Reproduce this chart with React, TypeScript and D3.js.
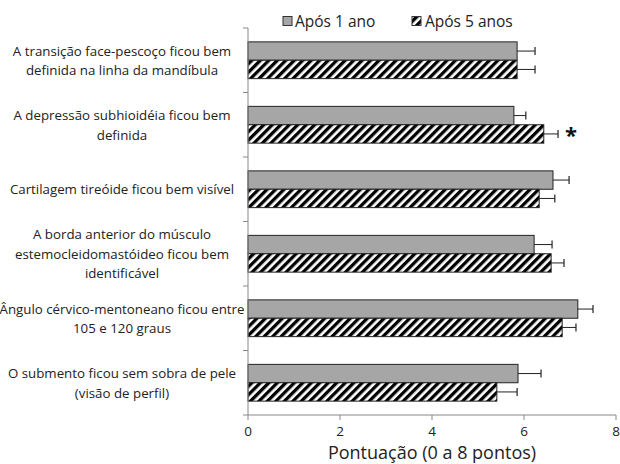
import React from "react";
import * as d3 from "d3";

const WIDTH = 620;
const HEIGHT = 464;
const MARGIN = { top: 28, right: 4, bottom: 49, left: 248 };

const categories = [
  ["A transição face-pescoço ficou bem", "definida na linha da mandíbula"],
  ["A depressão subhioidéia ficou bem", "definida"],
  ["Cartilagem tireóide ficou bem visível"],
  ["A borda anterior do músculo", "estemocleidomastóideo ficou bem", "identificável"],
  ["Ângulo cérvico-mentoneano ficou entre", "105 e 120 graus"],
  ["O submento ficou sem sobra de pele", "(visão de perfil)"],
];
const seriesNames = ["Após 1 ano", "Após 5 anos"];
const oneYear = [5.85, 5.78, 6.63, 6.22, 7.17, 5.87];
const oneYearErr = [0.39, 0.26, 0.35, 0.39, 0.33, 0.5];
const fiveYears = [5.85, 6.43, 6.33, 6.59, 6.83, 5.41];
const fiveYearsErr = [0.39, 0.31, 0.34, 0.28, 0.3, 0.44];
const significant = [false, true, false, false, false, false];
const xTicks = [0, 2, 4, 6, 8];

export default function App() {
  const boundsWidth = WIDTH - MARGIN.left - MARGIN.right;
  const boundsHeight = HEIGHT - MARGIN.top - MARGIN.bottom;

  const xScale = d3.scaleLinear().domain([0, 8]).range([0, 368]);
  const yScale = d3
    .scaleBand<number>()
    .domain(d3.range(categories.length))
    .range([0, boundsHeight])
    .paddingInner(0.43)
    .paddingOuter(0.215);
  const sub = d3
    .scaleBand<number>()
    .domain([0, 1])
    .range([0, yScale.bandwidth()]);

  const series = [
    { values: oneYear, errs: oneYearErr, fill: "#a6a6a6" },
    { values: fiveYears, errs: fiveYearsErr, fill: "url(#hatch)" },
  ];

  const step = yScale.step();

  return (
    <div>
      <style>{`body{margin:0}`}</style>
      <svg width={WIDTH} height={HEIGHT} style={{ display: "block" }} fontFamily="'Open Sans', sans-serif">
        <defs>
          <pattern id="hatch" patternUnits="userSpaceOnUse" width={6} height={6} patternTransform="rotate(45)">
            <rect width={6} height={6} fill="white" />
            <rect x={0} y={0} width={3.3} height={6} fill="black" />
          </pattern>
        </defs>

        {/* legend */}
        <g transform="translate(283,21)">
          <rect x={0} y={-4.5} width={9} height={9} fill="#a6a6a6" stroke="#333" strokeWidth={1} />
          <text x={12} y={0} dominantBaseline="central" fontSize={15.5} fill="#222">
            {seriesNames[0]}
          </text>
          <rect x={129} y={-4.5} width={9} height={9} fill="url(#hatch)" stroke="#333" strokeWidth={1} />
          <text x={142} y={0} dominantBaseline="central" fontSize={15.5} fill="#222">
            {seriesNames[1]}
          </text>
        </g>

        <g transform={`translate(${MARGIN.left},${MARGIN.top})`}>
          {/* category labels */}
          {categories.map((lines, i) => {
            const cy = i * step + step / 2;
            const lh = 19.5;
            return (
              <text key={i} textAnchor="middle" fontSize={13.3} fill="#222">
                {lines.map((l, j) => (
                  <tspan
                    key={j}
                    x={122 - MARGIN.left}
                    y={cy + (j - (lines.length - 1) / 2) * lh}
                    dominantBaseline="central"
                  >
                    {l}
                  </tspan>
                ))}
              </text>
            );
          })}

          {/* bars */}
          {series.map((s, si) =>
            s.values.map((v, i) => {
              const y = (yScale(i) ?? 0) + (sub(si) ?? 0);
              const h = sub.bandwidth();
              const x1 = xScale(v);
              const x2 = xScale(v + s.errs[i]);
              const cy = y + h / 2;
              return (
                <g key={`${si}-${i}`}>
                  <rect x={xScale(0)} y={y} width={x1 - xScale(0)} height={h} fill={s.fill} stroke="#222" strokeWidth={1} />
                  <line x1={x1} x2={x2} y1={cy} y2={cy} stroke="#222" strokeWidth={1} />
                  <line x1={x2} x2={x2} y1={cy - 4} y2={cy + 4} stroke="#222" strokeWidth={1.2} />
                </g>
              );
            })
          )}

          {/* significance stars */}
          {significant.map((sig, i) =>
            sig ? (
              <text
                key={i}
                x={xScale(fiveYears[i] + fiveYearsErr[i]) + 13}
                y={(yScale(i) ?? 0) + (sub(1) ?? 0) + sub.bandwidth() / 2 + 9}
                textAnchor="middle"
                fontSize={22}
                fontWeight="bold"
                fill="#111"
              >
                *
              </text>
            ) : null
          )}

          {/* y axis */}
          <line x1={0} x2={0} y1={0} y2={boundsHeight} stroke="#888" strokeWidth={1} />
          {d3.range(categories.length + 1).map((i) => (
            <line key={i} x1={-5} x2={0} y1={i * step} y2={i * step} stroke="#888" strokeWidth={1} />
          ))}

          {/* x axis */}
          <line x1={0} x2={boundsWidth} y1={boundsHeight} y2={boundsHeight} stroke="#888" strokeWidth={1} />
          {xTicks.map((t) => (
            <g key={t}>
              <line x1={xScale(t)} x2={xScale(t)} y1={boundsHeight} y2={boundsHeight + 5} stroke="#888" strokeWidth={1} />
              <text x={xScale(t)} y={boundsHeight + 15.5} textAnchor="middle" dominantBaseline="central" fontSize={13.5} fill="#222">
                {t}
              </text>
            </g>
          ))}
          <text
            x={xScale(4)}
            y={boundsHeight + 37}
            textAnchor="middle"
            dominantBaseline="central"
            fontSize={18}
            fill="#222"
          >
            Pontuação (0 a 8 pontos)
          </text>
        </g>
      </svg>
    </div>
  );
}
